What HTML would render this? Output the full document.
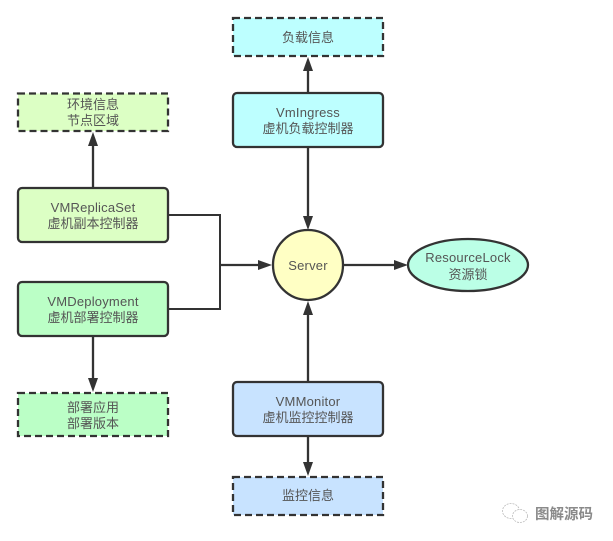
<!DOCTYPE html>
<html>
<head>
<meta charset="utf-8">
<style>
html,body{margin:0;padding:0;background:#fff;width:613px;height:541px;overflow:hidden}
svg{display:block}
text{font-family:"Liberation Sans","Noto Sans CJK SC",sans-serif;font-size:13px;fill:#555;text-anchor:middle}
.e{letter-spacing:.2px}
.b{stroke:#333;stroke-width:2.300}
.d{stroke:#333;stroke-width:2.300;stroke-dasharray:7 4}
.l{stroke:#333;stroke-width:2.300;fill:none}
.t{stroke:#333;stroke-width:2;fill:none}
.a{fill:#333;stroke:none}
</style>
</head>
<body>
<svg width="613" height="541" viewBox="0 0 613 541" xmlns="http://www.w3.org/2000/svg">
<!-- connectors -->
<path class="l" d="M93 188V144"/>
<path class="a" d="M93 132l-5 14h10z"/>
<path class="l" d="M93 336V380"/>
<path class="a" d="M93 392l-5 -14h10z"/>
<path class="l" d="M308 93V70"/>
<path class="a" d="M308 57l-5 14h10z"/>
<path class="l" d="M308 147V218"/>
<path class="a" d="M308 230l-5 -14h10z"/>
<path class="l" d="M308 382V312"/>
<path class="a" d="M308 301l-5 14h10z"/>
<path class="l" d="M308 436V465"/>
<path class="a" d="M308 476l-5 -14h10z"/>
<path class="t" d="M168 215H220V309H168"/>
<path class="l" d="M220 265H260"/>
<path class="a" d="M272 265l-14 -5v10z"/>
<path class="l" d="M343 265H396"/>
<path class="a" d="M408 265l-14 -5v10z"/>

<!-- boxes -->
<rect class="d" x="18" y="93.500" width="150" height="37.500" fill="#dcffc4"/>
<text x="93" y="109">环境信息</text>
<text x="93" y="125">节点区域</text>

<rect class="b" x="18" y="188" width="150" height="54" rx="4" fill="#dcffc4"/>
<text class="e" x="93" y="212">VMReplicaSet</text>
<text x="93" y="228">虚机副本控制器</text>

<rect class="b" x="18" y="282" width="150" height="54" rx="4" fill="#bbffc6"/>
<text class="e" x="93" y="306">VMDeployment</text>
<text x="93" y="322">虚机部署控制器</text>

<rect class="d" x="18" y="393" width="150" height="43" fill="#bbffc6"/>
<text x="93" y="412">部署应用</text>
<text x="93" y="428">部署版本</text>

<rect class="d" x="233" y="18" width="150" height="38" fill="#bdffff"/>
<text x="308" y="42">负载信息</text>

<rect class="b" x="233" y="93" width="150" height="54" rx="4" fill="#bdffff"/>
<text class="e" x="308" y="117">VmIngress</text>
<text x="308" y="133">虚机负载控制器</text>

<circle class="b" cx="308" cy="265" r="35" fill="#ffffc4"/>
<text class="e" x="308" y="270">Server</text>

<ellipse class="b" cx="468" cy="265" rx="60" ry="26" fill="#bbffe6"/>
<text class="e" x="468" y="262">ResourceLock</text>
<text x="468" y="279">资源锁</text>

<rect class="b" x="233" y="382" width="150" height="54" rx="4" fill="#c8e3ff"/>
<text class="e" x="308" y="406">VMMonitor</text>
<text x="308" y="422">虚机监控控制器</text>

<rect class="d" x="233" y="477" width="150" height="38" fill="#c8e3ff"/>
<text x="308" y="500">监控信息</text>

<!-- watermark -->
<g fill="#fff" stroke="#bbb" stroke-width="0.800">
<ellipse cx="511" cy="511" rx="8.500" ry="7.500" stroke-dasharray="2 1"/>
<ellipse cx="520" cy="516" rx="7.500" ry="6.500" stroke-dasharray="2 1"/>
</g>
<text x="564" y="519" style="font-size:14.500px;font-weight:bold;fill:#8a8a8a">图解源码</text>
</svg>
</body>
</html>
